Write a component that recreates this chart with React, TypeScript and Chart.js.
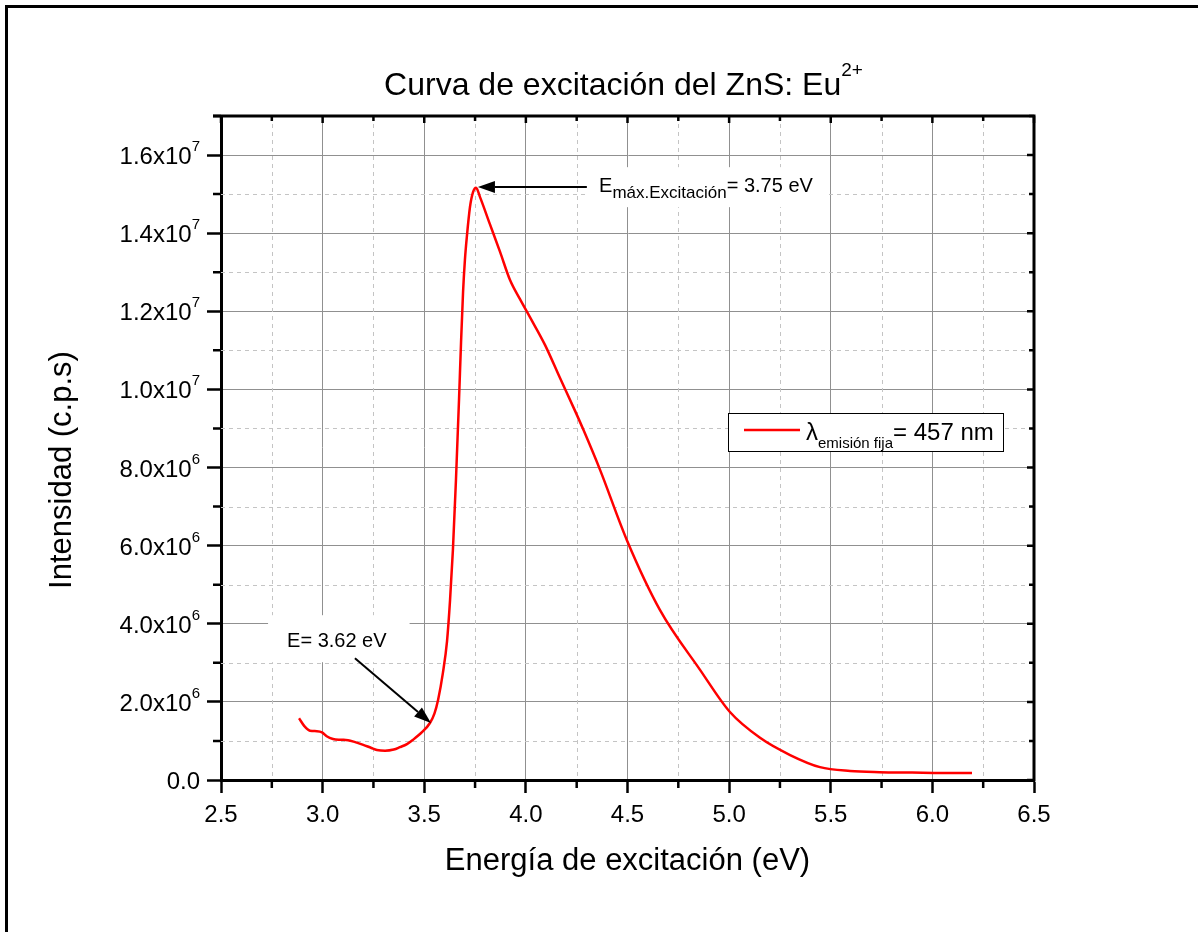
import React, { useEffect, useRef } from "react";
import { Chart, registerables } from "chart.js";

Chart.register(...registerables);

// ---- data ----
const energy: number[] = [
  2.884, 2.91, 2.938, 2.972, 2.997, 3.02, 3.051, 3.09, 3.125, 3.16,
  3.2, 3.24, 3.267, 3.307, 3.35, 3.38, 3.415, 3.445, 3.49, 3.528,
  3.55, 3.568, 3.592, 3.612, 3.627, 3.641, 3.656, 3.671, 3.681, 3.691,
  3.7, 3.71, 3.725, 3.74, 3.755, 3.774, 3.823, 3.873, 3.922, 3.971,
  4.02, 4.094, 4.168, 4.242, 4.281, 4.365, 4.497, 4.66, 4.857, 5.004,
  5.152, 5.3, 5.447, 5.595, 5.74, 5.9, 6.05, 6.195,
];
const intensity: number[] = [
  1.58e6, 1.38e6, 1.26e6, 1.25e6, 1.22e6, 1.12e6, 1.05e6, 1.03e6, 1.02e6, 0.97e6,
  0.9e6, 0.82e6, 0.77e6, 0.75e6, 0.78e6, 0.84e6, 0.92e6, 1.03e6, 1.23e6, 1.46e6,
  1.7e6, 2.05e6, 2.75e6, 3.55e6, 4.61e6, 5.89e6, 7.68e6, 9.73e6, 11.2e6, 12.5e6,
  13.31e6, 13.93e6, 14.67e6, 15.05e6, 15.16e6, 14.93e6, 14.23e6, 13.52e6, 12.8e6, 12.31e6,
  11.85e6, 11.14e6, 10.29e6, 9.45e6, 8.99e6, 7.94e6, 6.14e6, 4.35e6, 2.82e6, 1.74e6,
  1.08e6, 0.64e6, 0.33e6, 0.23e6, 0.2e6, 0.19e6, 0.18e6, 0.18e6,
];

const xMin = 2.5;
const xMax = 6.5;
const xStep = 0.5;
const yMin = 0;
const yMax = 1.7e7;
const yStep = 2e6;

const titleMain = "Curva de excitación del ZnS: Eu";
const titleSup = "2+";
const xTitle = "Energía de excitación (eV)";
const yTitle = "Intensidad (c.p.s)";
const legendSymbol = "λ";
const legendSub = "emisión fija";
const legendRest = "= 457 nm";

// annotation anchors in data units
const peakArrow = { tail: [4.3, 15.18e6], tip: [3.764, 15.18e6] };
const peakLabel = { at: [4.36, 15.05e6], main: "E", sub: "máx.Excitación", rest: "= 3.75 eV" };
const edgeArrow = { tail: [3.159, 3.12e6], tip: [3.533, 1.46e6] };
const edgeLabel = { at: [2.825, 3.4e6], text: "E= 3.62 eV" };

const FONT = '"Liberation Sans", Arial, Helvetica, sans-serif';
const f = (px: number) => `${px}px ${FONT}`;

type Part = { t: string; size: number; dy: number };

function richWidth(ctx: CanvasRenderingContext2D, parts: Part[]) {
  let w = 0;
  for (const p of parts) {
    ctx.font = f(p.size);
    w += ctx.measureText(p.t).width;
  }
  return w;
}
function drawRich(ctx: CanvasRenderingContext2D, parts: Part[], x: number, base: number) {
  let cx = x;
  ctx.textAlign = "left";
  ctx.textBaseline = "alphabetic";
  for (const p of parts) {
    ctx.font = f(p.size);
    ctx.fillText(p.t, cx, base + p.dy);
    cx += ctx.measureText(p.t).width;
  }
}

function arrow(ctx: CanvasRenderingContext2D, x0: number, y0: number, x1: number, y1: number) {
  const ang = Math.atan2(y1 - y0, x1 - x0);
  const hl = 17;
  const hw = 6;
  const bx = x1 - hl * Math.cos(ang);
  const by = y1 - hl * Math.sin(ang);
  ctx.strokeStyle = "#000";
  ctx.lineWidth = 2;
  ctx.setLineDash([]);
  ctx.beginPath();
  ctx.moveTo(x0, y0);
  ctx.lineTo(bx, by);
  ctx.stroke();
  ctx.fillStyle = "#000";
  ctx.beginPath();
  ctx.moveTo(x1, y1);
  ctx.lineTo(bx + hw * Math.sin(ang), by - hw * Math.cos(ang));
  ctx.lineTo(bx - hw * Math.sin(ang), by + hw * Math.cos(ang));
  ctx.closePath();
  ctx.fill();
}

function yLabelParts(v: number): Part[] {
  if (v === 0) return [{ t: "0.0", size: 24, dy: 0 }];
  const e = Math.floor(Math.log10(v) + 1e-9);
  const m = v / Math.pow(10, e);
  return [
    { t: m.toFixed(1) + "x10", size: 24, dy: 0 },
    { t: String(e), size: 15, dy: -13 },
  ];
}

const decor = {
  id: "decor",
  beforeDatasetsDraw(chart: any) {
    const { ctx, chartArea: ca, scales } = chart;
    const x = scales.x;
    const y = scales.y;
    ctx.save();
    ctx.strokeStyle = "#c4c4c4";
    ctx.lineWidth = 1;
    ctx.setLineDash([4, 4]);
    for (let v = xMin + xStep / 2; v < xMax; v += xStep) {
      const px = Math.round(x.getPixelForValue(v)) + 0.5;
      ctx.beginPath();
      ctx.moveTo(px, ca.top);
      ctx.lineTo(px, ca.bottom);
      ctx.stroke();
    }
    for (let v = yMin + yStep / 2; v < yMax - 1; v += yStep) {
      const py = Math.round(y.getPixelForValue(v)) + 0.5;
      ctx.beginPath();
      ctx.moveTo(ca.left, py);
      ctx.lineTo(ca.right, py);
      ctx.stroke();
    }
    ctx.restore();
  },
  afterDatasetsDraw(chart: any) {
    const { ctx, chartArea: ca, scales } = chart;
    const x = scales.x;
    const y = scales.y;
    ctx.save();
    ctx.setLineDash([]);
    ctx.strokeStyle = "#000";
    ctx.fillStyle = "#000";

    // top & right axis lines
    ctx.lineWidth = 3;
    ctx.beginPath();
    ctx.moveTo(ca.left - 8, ca.top);
    ctx.lineTo(ca.right + 1.5, ca.top);
    ctx.moveTo(ca.right, ca.top);
    ctx.lineTo(ca.right, ca.bottom + 1.5);
    ctx.stroke();

    // ticks
    ctx.lineWidth = 2.5;
    ctx.beginPath();
    for (let v = xMin; v <= xMax + 1e-9; v += xStep / 2) {
      const px = x.getPixelForValue(v);
      const major = Math.abs((v - xMin) / xStep - Math.round((v - xMin) / xStep)) < 1e-6;
      if (!major) {
        ctx.moveTo(px, ca.bottom);
        ctx.lineTo(px, ca.bottom + 8);
      }
      ctx.moveTo(px, ca.top);
      ctx.lineTo(px, ca.top + (major ? 7 : 5));
    }
    for (let v = yMin; v <= yMax + 1; v += yStep / 2) {
      const py = y.getPixelForValue(v);
      const major = Math.abs(v / yStep - Math.round(v / yStep)) < 1e-6;
      if (!major) {
        ctx.moveTo(ca.left, py);
        ctx.lineTo(ca.left - 8, py);
      }
      ctx.moveTo(ca.right, py);
      ctx.lineTo(ca.right - (major ? 7 : 5), py);
    }
    ctx.stroke();

    // x tick labels
    ctx.fillStyle = "#000";
    ctx.font = f(24);
    ctx.textAlign = "center";
    ctx.textBaseline = "alphabetic";
    for (const t of x.ticks) {
      ctx.fillText(t.value.toFixed(1), x.getPixelForValue(t.value), ca.bottom + 42);
    }
    // y tick labels with superscript exponent
    for (const t of y.ticks) {
      const parts = yLabelParts(t.value);
      const w = richWidth(ctx, parts);
      const py = y.getPixelForValue(t.value);
      drawRich(ctx, parts, ca.left - 21 - w, py + 9);
    }

    // axis titles
    ctx.fillStyle = "#000";
    ctx.font = f(31);
    ctx.textAlign = "center";
    ctx.fillText(xTitle, (ca.left + ca.right) / 2, ca.bottom + 90);
    ctx.save();
    ctx.translate(71, (ca.top + ca.bottom) / 2 + 22);
    ctx.rotate(-Math.PI / 2);
    ctx.fillText(yTitle, 0, 0);
    ctx.restore();

    // title
    const tParts: Part[] = [
      { t: titleMain, size: 32, dy: 0 },
      { t: titleSup, size: 19, dy: -19 },
    ];
    const tw = richWidth(ctx, tParts);
    drawRich(ctx, tParts, (ca.left + ca.right) / 2 - 4 - tw / 2, ca.top - 21);

    // peak annotation
    {
      const tx = x.getPixelForValue(peakArrow.tail[0]);
      const ty = y.getPixelForValue(peakArrow.tail[1]);
      const hx = x.getPixelForValue(peakArrow.tip[0]);
      const hy = y.getPixelForValue(peakArrow.tip[1]);
      const lx = x.getPixelForValue(peakLabel.at[0]);
      const ly = y.getPixelForValue(peakLabel.at[1]);
      const parts: Part[] = [
        { t: peakLabel.main, size: 20, dy: 0 },
        { t: peakLabel.sub, size: 17, dy: 6 },
        { t: peakLabel.rest, size: 20, dy: 0 },
      ];
      const w = richWidth(ctx, parts);
      ctx.fillStyle = "#fff";
      ctx.fillRect(lx - 12, ly - 25, w + 27, 40);
      ctx.fillStyle = "#000";
      drawRich(ctx, parts, lx, ly);
      arrow(ctx, tx, ty, hx, hy);
    }
    // edge annotation
    {
      const lx = x.getPixelForValue(edgeLabel.at[0]);
      const ly = y.getPixelForValue(edgeLabel.at[1]);
      ctx.font = f(20);
      const w = ctx.measureText(edgeLabel.text).width;
      ctx.fillStyle = "#fff";
      ctx.fillRect(lx - 19, ly - 32, w + 42, 47);
      ctx.fillStyle = "#000";
      ctx.textAlign = "left";
      ctx.fillText(edgeLabel.text, lx, ly);
      arrow(
        ctx,
        x.getPixelForValue(edgeArrow.tail[0]),
        y.getPixelForValue(edgeArrow.tail[1]),
        x.getPixelForValue(edgeArrow.tip[0]),
        y.getPixelForValue(edgeArrow.tip[1])
      );
    }

    // legend
    {
      const lx = ca.right - 306;
      const ly = ca.top + 297;
      const lw = 275;
      const lh = 38;
      ctx.fillStyle = "#fff";
      ctx.fillRect(lx, ly, lw, lh);
      ctx.strokeStyle = "#000";
      ctx.lineWidth = 1;
      ctx.strokeRect(lx + 0.5, ly + 0.5, lw, lh);
      const ds = chart.data.datasets[0];
      ctx.strokeStyle = ds.borderColor;
      ctx.lineWidth = 2.5;
      ctx.beginPath();
      ctx.moveTo(lx + 16, ly + 17);
      ctx.lineTo(lx + 72, ly + 17);
      ctx.stroke();
      ctx.fillStyle = "#000";
      drawRich(
        ctx,
        [
          { t: legendSymbol, size: 24, dy: 0 },
          { t: legendSub, size: 15, dy: 8 },
          { t: legendRest, size: 24, dy: 0 },
        ],
        lx + 78,
        ly + 27
      );
    }
    ctx.restore();
  },
};

export default function App() {
  const ref = useRef<HTMLCanvasElement | null>(null);
  useEffect(() => {
    if (!ref.current) return;
    const chart = new Chart(ref.current, {
      type: "line",
      data: {
        datasets: [
          {
            data: energy.map((e, i) => ({ x: e, y: intensity[i] })),
            borderColor: "#ff0000",
            borderWidth: 2.5,
            pointRadius: 0,
            fill: false,
            cubicInterpolationMode: "monotone",
          },
        ],
      },
      options: {
        animation: false,
        responsive: false,
        devicePixelRatio: 1,
        layout: { padding: { top: 116, right: 164, left: 0, bottom: 0 } },
        plugins: { legend: { display: false }, title: { display: false }, tooltip: { enabled: false } },
        scales: {
          x: {
            type: "linear",
            position: "bottom",
            min: xMin,
            max: xMax,
            ticks: { stepSize: xStep, display: false },
            grid: { color: "#909090", lineWidth: 1, tickLength: 13, tickWidth: 2.5, tickColor: "#000" },
            border: { color: "#000", width: 3 },
            afterFit: (s: any) => {
              s.height = 152;
            },
          },
          y: {
            type: "linear",
            min: yMin,
            max: yMax,
            ticks: { stepSize: yStep, display: false },
            afterBuildTicks: (s: any) => {
              const list: { value: number }[] = [];
              for (let v = yMin; v <= yMax; v += yStep) list.push({ value: v });
              s.ticks = list;
            },
            grid: { color: "#909090", lineWidth: 1, tickLength: 14, tickWidth: 2.5, tickColor: "#000" },
            border: { color: "#000", width: 3 },
            afterFit: (s: any) => {
              s.width = 221;
            },
          },
        },
      } as any,
      plugins: [decor as any],
    });
    return () => chart.destroy();
  }, []);

  return (
    <div style={{ position: "fixed", left: 0, top: 0, width: 1198, height: 932, background: "#fff" }}>
      <div
        style={{
          position: "absolute",
          left: 5,
          top: 5,
          right: 0,
          bottom: 0,
          borderTop: "3px solid #000",
          borderLeft: "3px solid #000",
        }}
      />
      <canvas ref={ref} width={1198} height={932} style={{ position: "absolute", left: 0, top: 0 }} />
    </div>
  );
}
